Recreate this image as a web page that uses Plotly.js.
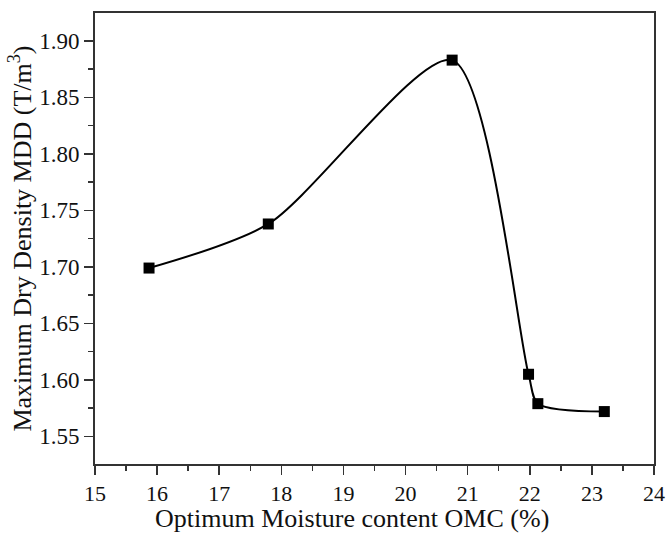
<!DOCTYPE html>
<html>
<head>
<meta charset="utf-8">
<script src="https://cdn.plot.ly/plotly-3.0.1.min.js"></script>
<style>html,body{margin:0;padding:0;background:#fff;}#chart{width:667px;height:536px;}</style>
</head>
<body>
<div id="chart"></div>
<script>
const omc = [15.87, 17.79, 20.75, 21.98, 22.13, 23.20];
const mdd = [1.699, 1.738, 1.883, 1.605, 1.579, 1.572];
const xTickVals = [15, 16, 17, 18, 19, 20, 21, 22, 23, 24];
const yTickVals = [1.55, 1.60, 1.65, 1.70, 1.75, 1.80, 1.85, 1.90];
const xTitle = 'Optimum Moisture content OMC (%)';
const yTitle = 'Maximum Dry Density MDD (T/m<sup>3</sup>)';

const font = 'Liberation Serif, Times New Roman, serif';
const trace = {
  x: omc, y: mdd, mode: 'lines+markers', type: 'scatter',
  line: {shape: 'spline', smoothing: 0.75, color: '#000', width: 2},
  marker: {symbol: 'square', size: 11, color: '#000'},
  hoverinfo: 'skip'
};
const layout = {
  width: 667, height: 536,
  margin: {l: 95, r: 13, t: 13, b: 72},
  paper_bgcolor: '#fff', plot_bgcolor: '#fff',
  showlegend: false,
  font: {family: font, color: '#111', size: 22},
  xaxis: {
    range: [15, 24], tickvals: xTickVals, ticks: 'outside', ticklen: 9, tickwidth: 1.5,
    tickcolor: '#333', showline: true, linecolor: '#333', linewidth: 2, mirror: true,
    showgrid: false, zeroline: false, tickfont: {family: font, size: 22, color: '#111'},
    minor: {dtick: 0.5, tick0: 15, ticks: 'outside', ticklen: 5, tickwidth: 1.5, tickcolor: '#333', showgrid: false}
  },
  yaxis: {
    range: [1.5256, 1.9247], tickvals: yTickVals, tickformat: '.2f', ticks: 'outside', ticklen: 9, tickwidth: 1.5,
    tickcolor: '#333', showline: true, linecolor: '#333', linewidth: 2, mirror: true,
    showgrid: false, zeroline: false, tickfont: {family: font, size: 23, color: '#111'},
    minor: {dtick: 0.025, tick0: 1.525, ticks: 'outside', ticklen: 5, tickwidth: 1.5, tickcolor: '#333', showgrid: false},
    title: {text: yTitle, font: {family: font, size: 26, color: '#111'}, standoff: 0}
  },
  annotations: [{
    text: xTitle, xref: 'paper', yref: 'paper', x: 0.46, y: -0.158,
    xanchor: 'center', yanchor: 'bottom', showarrow: false,
    font: {family: font, size: 26, color: '#111'}
  }]
};
Plotly.newPlot('chart', [trace], layout, {displayModeBar: false, staticPlot: true});
</script>
</body>
</html>
